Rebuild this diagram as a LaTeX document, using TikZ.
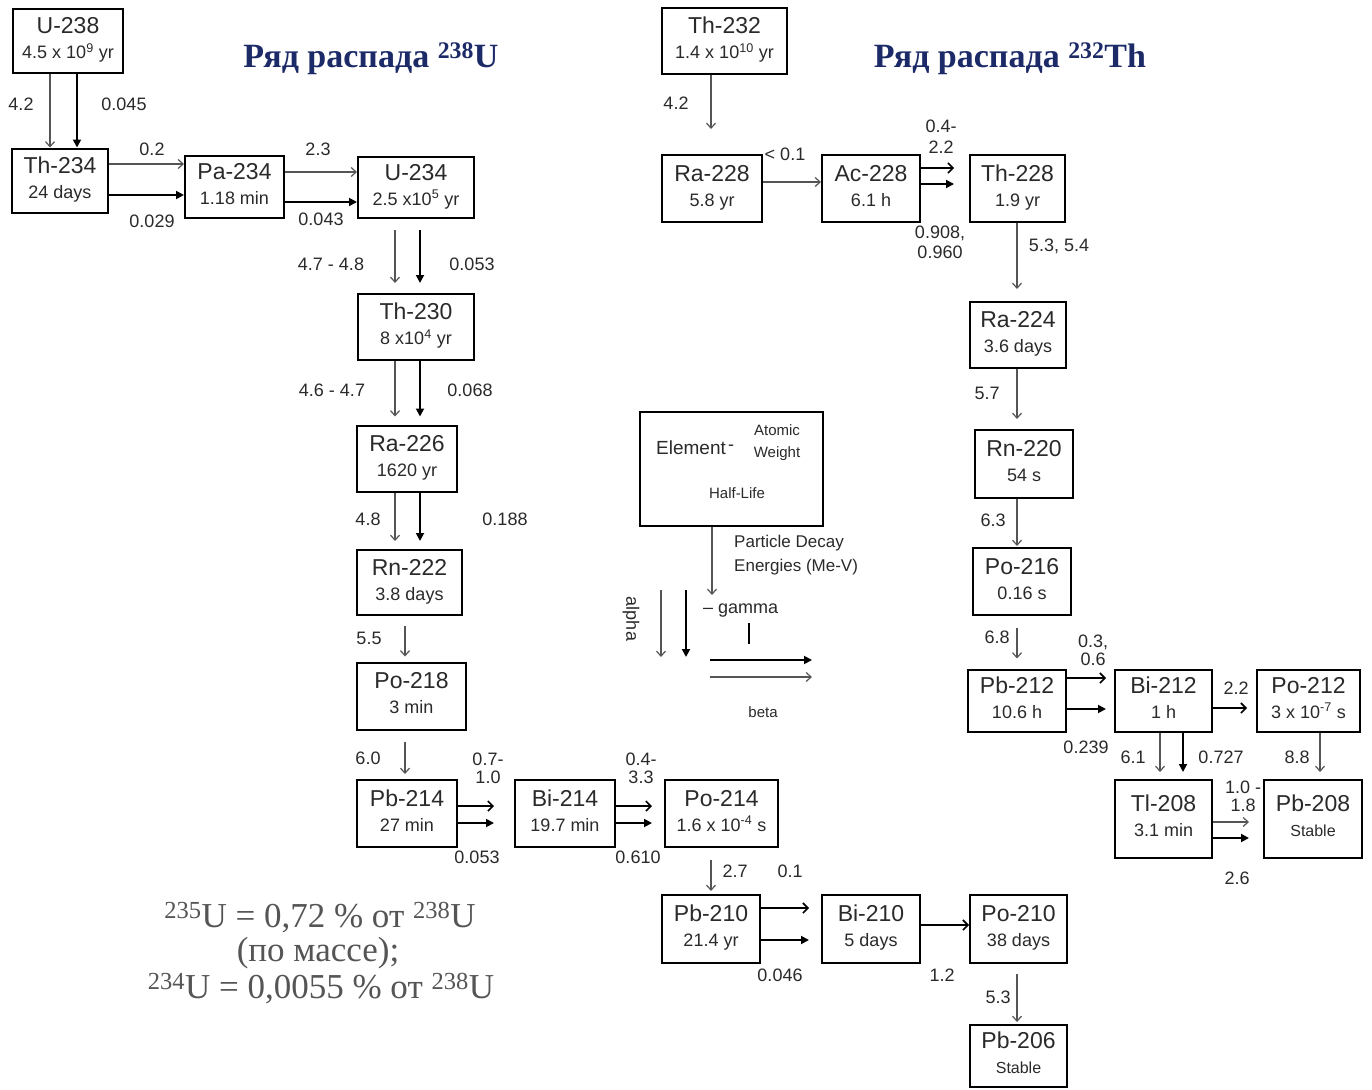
\documentclass[tikz,border=0pt]{standalone}
\usepackage{fontspec}
\setmainfont{Liberation Sans}
\newfontfamily\rufont{Liberation Serif}
\usetikzlibrary{arrows.meta}
\definecolor{txt}{HTML}{2A2A2A}
\definecolor{navy}{HTML}{1C2B68}
\definecolor{agray}{HTML}{555555}
\definecolor{ngray}{HTML}{555555}
\newcommand\bxt[2]{\fontsize{20}{25}\selectfont\begin{tabular}{@{}c@{}}\fontsize{23}{25}\selectfont #1\\\fontsize{18}{20}\selectfont #2\end{tabular}}
\newcommand\tp[1]{\textsuperscript{#1}}
\begin{document}
\begin{tikzpicture}[x=1pt,y=-1pt,
 box/.style={draw=black,line width=2pt,inner sep=0pt,align=center,text=txt},
 lbl/.style={font=\fontsize{18}{20}\selectfont,text=txt,inner sep=0pt,align=center},
 alph/.style={draw=agray,line width=1.2pt,-{Straight Barb[length=5pt,width=9pt]}},
 bet/.style={draw=black,line width=1.6pt,-{Straight Barb[length=5pt,width=10pt]}},
 gam/.style={draw=black,line width=1.8pt,-{Triangle[length=8pt,width=8pt]}},
 ttl/.style={font=\rufont\bfseries\fontsize{34}{38}\selectfont,text=navy,inner sep=0pt},
 note/.style={font=\rufont\fontsize{35}{38}\selectfont,text=ngray,inner sep=0pt}
]
\path[use as bounding box] (0,0) rectangle (1372,1089);
\fill[white] (0,0) rectangle (1372,1089);

% ---------- titles ----------
\node[ttl] (t238) at (371,59) {Ряд распада \tp{238}U};
\node[ttl] (t232) at (1010,59) {Ряд распада \tp{232}Th};

% ---------- U-238 chain boxes ----------
\node[box,minimum width=110,minimum height=64] (u238) at (68,41) {\bxt{U-238}{4.5 x 10\tp{9} yr}};
\node[box,minimum width=96,minimum height=64] (th234) at (60,180.5) {\bxt{Th-234}{24 days}};
\node[box,minimum width=99,minimum height=62] (pa234) at (234.5,187) {\bxt{Pa-234}{1.18 min}};
\node[box,minimum width=116,minimum height=61] (u234) at (416,187.5) {\bxt{U-234}{2.5 x10\tp{5} yr}};
\node[box,minimum width=116,minimum height=66] (th230) at (416,327) {\bxt{Th-230}{8 x10\tp{4} yr}};
\node[box,minimum width=100,minimum height=66] (ra226) at (407,458.5) {\bxt{Ra-226}{1620 yr}};
\node[box,minimum width=105,minimum height=65] (rn222) at (409.5,582.5) {\bxt{Rn-222}{3.8 days}};
\node[box,minimum width=109,minimum height=67] (po218) at (411.5,696) {\bxt{Po-218}{3 min}};
\node[box,minimum width=100,minimum height=67] (pb214) at (407,813.5) {\bxt{Pb-214}{27 min}};
\node[box,minimum width=100,minimum height=67] (bi214) at (565,813.5) {\bxt{Bi-214}{19.7 min}};
\node[box,minimum width=113,minimum height=67] (po214) at (721.5,813.5) {\bxt{Po-214}{1.6 x 10\tp{-4} s}};
\node[box,minimum width=98,minimum height=68] (pb210) at (711,929) {\bxt{Pb-210}{21.4 yr}};
\node[box,minimum width=98,minimum height=68] (bi210) at (871,929) {\bxt{Bi-210}{5 days}};
\node[box,minimum width=97,minimum height=68] (po210) at (1018.5,929) {\bxt{Po-210}{38 days}};
\node[box,minimum width=97,minimum height=62] (pb206) at (1018.5,1056) {\bxt{Pb-206}{\fontsize{16}{18}\selectfont Stable}};

% ---------- Th-232 chain boxes ----------
\node[box,minimum width=125,minimum height=66] (th232) at (724.5,41.5) {\bxt{Th-232}{1.4 x 10\tp{10} yr}};
\node[box,minimum width=100,minimum height=67] (ra228) at (712,188.5) {\bxt{Ra-228}{5.8 yr}};
\node[box,minimum width=98,minimum height=67] (ac228) at (871,188.5) {\bxt{Ac-228}{6.1 h}};
\node[box,minimum width=95,minimum height=67] (th228) at (1017.5,188.5) {\bxt{Th-228}{1.9 yr}};
\node[box,minimum width=96,minimum height=66] (ra224) at (1018,335) {\bxt{Ra-224}{3.6 days}};
\node[box,minimum width=98,minimum height=68] (rn220) at (1024,464) {\bxt{Rn-220}{54 s}};
\node[box,minimum width=98,minimum height=67] (po216) at (1022,581.5) {\bxt{Po-216}{0.16 s}};
\node[box,minimum width=98,minimum height=62] (pb212) at (1017,700.5) {\bxt{Pb-212}{10.6 h}};
\node[box,minimum width=97,minimum height=62] (bi212) at (1163.5,700.5) {\bxt{Bi-212}{1 h}};
\node[box,minimum width=103,minimum height=62] (po212) at (1308.5,700.5) {\bxt{Po-212}{3 x 10\tp{-7} s}};
\node[box,minimum width=97,minimum height=78] (tl208) at (1163.5,819) {\bxt{Tl-208}{3.1 min}};
\node[box,minimum width=98,minimum height=78] (pb208) at (1313,819) {\bxt{Pb-208}{\fontsize{16}{18}\selectfont Stable}};

% ---------- legend ----------
\node[box,minimum width=183,minimum height=114] (leg) at (731.5,469) {};
\node[lbl,font=\fontsize{19}{21}\selectfont] (legel) at (691,448) {Element};
\node[lbl] (legdash) at (731,448) {-};
\node[lbl,font=\fontsize{15}{22}\selectfont] (legaw) at (777,443) {Atomic\\Weight};
\node[lbl,font=\fontsize{15}{17}\selectfont] (leghl) at (737,493) {Half-Life};
\coordinate (legA) at (712,595);
\draw[alph] (leg.south -| legA) -- (legA);
\node[lbl,align=left,anchor=west,font=\fontsize{17}{24}\selectfont] (legpd) at (734,555) {Particle Decay\\Energies (Me-V)};
\node[lbl,rotate=-90] (legal) at (631,619) {alpha};
\coordinate (la1) at (661,590); \coordinate (la1e) at (661,657);
\coordinate (la2) at (686,590); \coordinate (la2e) at (686,657);
\draw[alph] (la1) -- (la1e);
\draw[gam] (la2) -- (la2e);
\node[lbl,anchor=west] (leggam) at (703,611) {\textendash\ gamma};
\coordinate (tk1) at (749,623); \coordinate (tk2) at (749,644);
\draw[black,line width=1.6pt] (tk1) -- (tk2);
\coordinate (lb1) at (710,660); \coordinate (lb1e) at (812,660);
\coordinate (lb2) at (710,677); \coordinate (lb2e) at (812,677);
\draw[gam] (lb1) -- (lb1e);
\draw[alph] (lb2) -- (lb2e);
\node[lbl,font=\fontsize{15}{17}\selectfont] (legbeta) at (763,712) {beta};

% ---------- helper coordinates ----------
\coordinate (x50) at (50,0); \coordinate (x77) at (77,0);
\coordinate (x395) at (395,0); \coordinate (x420) at (420,0);
\coordinate (x405) at (405,0); \coordinate (x711) at (711,0);
\coordinate (x1017) at (1017,0); \coordinate (x1160) at (1160,0);
\coordinate (x1183) at (1183,0); \coordinate (x1320) at (1320,0);
\coordinate (y164) at (0,164); \coordinate (y195) at (0,195);
\coordinate (y172) at (0,172); \coordinate (y202) at (0,202);
\coordinate (y807) at (0,806); \coordinate (y823) at (0,823);
\coordinate (y908) at (0,908); \coordinate (y940) at (0,940);
\coordinate (y925) at (0,925); \coordinate (y182) at (0,182);
\coordinate (y168) at (0,168); \coordinate (y183) at (0,184);
\coordinate (y678) at (0,678); \coordinate (y709) at (0,709);
\coordinate (y708) at (0,708); \coordinate (y822) at (0,822);
\coordinate (y838) at (0,838);

% ---------- U-238 chain arrows ----------
\draw[alph] (u238.south -| x50) -- (th234.north -| x50);
\draw[gam] (u238.south -| x77) -- (th234.north -| x77);
\draw[alph] (th234.east |- y164) -- (pa234.west |- y164);
\draw[gam] (th234.east |- y195) -- (pa234.west |- y195);
\draw[alph] (pa234.east |- y172) -- (u234.west |- y172);
\draw[gam] (pa234.east |- y202) -- (u234.west |- y202);
\draw[alph,shorten <=11pt,shorten >=10pt] (u234.south -| x395) -- (th230.north -| x395);
\draw[gam,shorten <=11pt,shorten >=10pt] (u234.south -| x420) -- (th230.north -| x420);
\draw[alph,shorten >=8pt] (th230.south -| x395) -- (ra226.north -| x395);
\draw[gam,shorten >=8pt] (th230.south -| x420) -- (ra226.north -| x420);
\draw[alph,shorten >=8pt] (ra226.south -| x395) -- (rn222.north -| x395);
\draw[gam,shorten >=8pt] (ra226.south -| x420) -- (rn222.north -| x420);
\draw[alph,shorten <=10pt,shorten >=5pt] (rn222.south -| x405) -- (po218.north -| x405);
\draw[alph,shorten <=11pt,shorten >=5pt] (po218.south -| x405) -- (pb214.north -| x405);
\draw[bet,shorten >=20pt] (pb214.east |- y807) -- (bi214.west |- y807);
\draw[gam,shorten >=20pt] (pb214.east |- y823) -- (bi214.west |- y823);
\draw[bet,shorten >=12pt] (bi214.east |- y807) -- (po214.west |- y807);
\draw[gam,shorten >=12pt] (bi214.east |- y823) -- (po214.west |- y823);
\draw[alph,shorten <=12pt,shorten >=3pt] (po214.south -| x711) -- (pb210.north -| x711);
\draw[bet,shorten >=12pt] (pb210.east |- y908) -- (bi210.west |- y908);
\draw[gam,shorten >=12pt] (pb210.east |- y940) -- (bi210.west |- y940);
\draw[bet] (bi210.east |- y925) -- (po210.west |- y925);
\draw[alph,shorten <=10pt,shorten >=2pt] (po210.south -| x1017) -- (pb206.north -| x1017);

% ---------- Th-232 chain arrows ----------
\draw[alph,shorten >=25pt] (th232.south -| x711) -- (ra228.north -| x711);
\draw[alph] (ra228.east |- y182) -- (ac228.west |- y182);
\draw[bet,shorten >=15pt] (ac228.east |- y168) -- (th228.west |- y168);
\draw[gam,shorten >=15pt] (ac228.east |- y183) -- (th228.west |- y183);
\draw[alph,shorten >=12pt] (th228.south -| x1017) -- (ra224.north -| x1017);
\draw[alph,shorten >=10pt] (ra224.south -| x1017) -- (rn220.north -| x1017);
\draw[alph,shorten >=1pt] (rn220.south -| x1017) -- (po216.north -| x1017);
\draw[alph,shorten <=12pt,shorten >=10pt] (po216.south -| x1017) -- (pb212.north -| x1017);
\draw[bet,shorten >=8pt] (pb212.east |- y678) -- (bi212.west |- y678);
\draw[gam,shorten >=8pt] (pb212.east |- y709) -- (bi212.west |- y709);
\draw[bet,shorten >=9pt] (bi212.east |- y708) -- (po212.west |- y708);
\draw[alph,shorten >=7pt] (bi212.south -| x1160) -- (tl208.north -| x1160);
\draw[gam,shorten >=7pt] (bi212.south -| x1183) -- (tl208.north -| x1183);
\draw[alph,shorten >=7pt] (po212.south -| x1320) -- (pb208.north -| x1320);
\draw[alph,shorten >=14pt] (tl208.east |- y822) -- (pb208.west |- y822);
\draw[gam,shorten >=14pt] (tl208.east |- y838) -- (pb208.west |- y838);

% ---------- energy labels ----------
\node[lbl] (l1) at (21,104) {4.2};
\node[lbl] (l2) at (124,104) {0.045};
\node[lbl] (l3) at (152,149) {0.2};
\node[lbl] (l4) at (152,221) {0.029};
\node[lbl] (l5) at (318,149) {2.3};
\node[lbl] (l6) at (321,219) {0.043};
\node[lbl] (l7) at (331,264) {4.7 - 4.8};
\node[lbl] (l8) at (472,264) {0.053};
\node[lbl] (l9) at (332,390) {4.6 - 4.7};
\node[lbl] (l10) at (470,390) {0.068};
\node[lbl] (l11) at (368,519) {4.8};
\node[lbl] (l12) at (505,519) {0.188};
\node[lbl] (l13) at (369,638) {5.5};
\node[lbl] (l14) at (368,758) {6.0};
\node[lbl,font=\fontsize{18}{18}\selectfont] (l15) at (488,768) {0.7-\\1.0};
\node[lbl] (l16) at (477,857) {0.053};
\node[lbl,font=\fontsize{18}{18}\selectfont] (l17) at (641,768) {0.4-\\3.3};
\node[lbl] (l18) at (638,857) {0.610};
\node[lbl] (l19) at (735,871) {2.7};
\node[lbl] (l20) at (790,871) {0.1};
\node[lbl] (l21) at (780,975) {0.046};
\node[lbl] (l22) at (942,975) {1.2};
\node[lbl] (l23) at (998,997) {5.3};
% Th chain labels
\node[lbl] (m1) at (676,103) {4.2};
\node[lbl] (m2) at (785,154) {< 0.1};
\node[lbl,font=\fontsize{18}{21}\selectfont] (m3) at (941,137) {0.4-\\2.2};
\node[lbl,font=\fontsize{18}{20}\selectfont] (m4) at (940,242) {0.908,\\0.960};
\node[lbl] (m5) at (1059,246) {5.3, 5.4};
\node[lbl] (m6) at (987,393) {5.7};
\node[lbl] (m7) at (993,520) {6.3};
\node[lbl] (m8) at (997,637) {6.8};
\node[lbl,font=\fontsize{18}{18}\selectfont] (m9) at (1093,650) {0.3,\\0.6};
\node[lbl] (m10) at (1086,747) {0.239};
\node[lbl] (m11) at (1236,688) {2.2};
\node[lbl] (m12) at (1133,757) {6.1};
\node[lbl] (m13) at (1221,757) {0.727};
\node[lbl] (m14) at (1297,757) {8.8};
\node[lbl,font=\fontsize{18}{18}\selectfont] (m15) at (1243,796) {1.0 -\\1.8};
\node[lbl] (m16) at (1237,878) {2.6};

% ---------- note ----------
\node[note] (n1) at (320,918) {\tp{235}U = 0,72 \% от \tp{238}U};
\node[note] (n2) at (318,953) {(по массе);};
\node[note] (n3) at (321,989) {\tp{234}U = 0,0055 \% от \tp{238}U};
\end{tikzpicture}
\end{document}
